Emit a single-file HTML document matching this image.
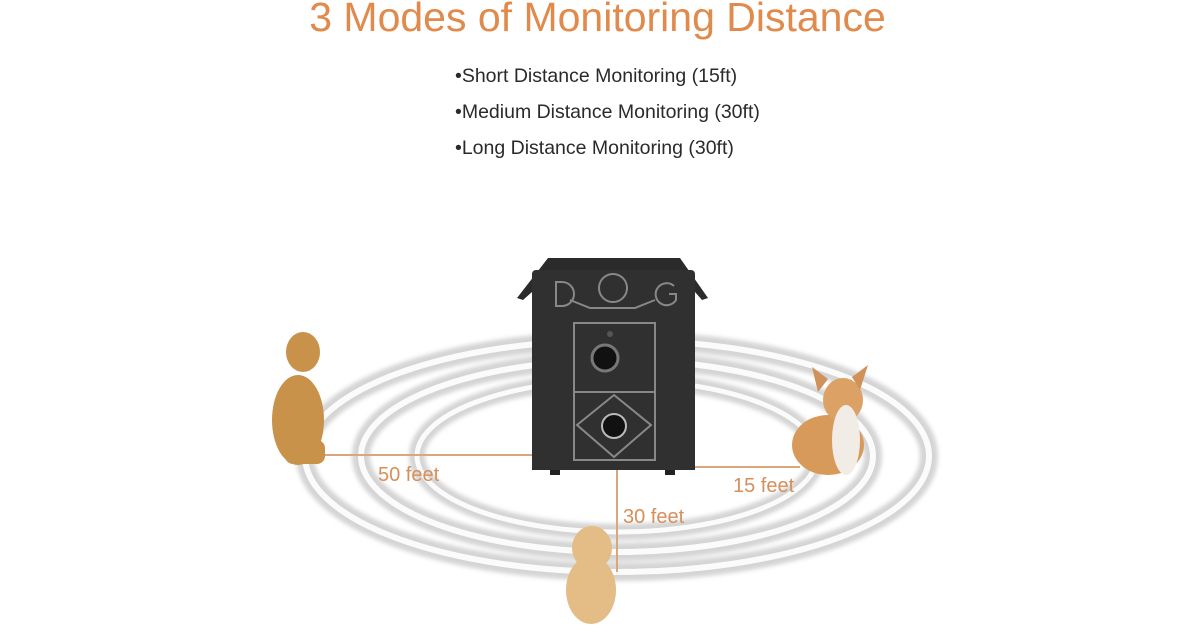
<!DOCTYPE html>
<html><head><style>
body{margin:0;width:1200px;height:630px;background:#fff;overflow:hidden;font-family:"Liberation Sans",sans-serif;position:relative}
.t{position:absolute;left:0;width:1195px;text-align:center;top:-6px;font-size:41px;color:#e08a4c}
.b{position:absolute;left:455px;font-size:19.5px;color:#2a2a2a}
</style></head><body>
<div class="t">3 Modes of Monitoring Distance</div>
<div class="b" style="top:65px">•Short Distance Monitoring (15ft)</div>
<div class="b" style="top:101px">•Medium Distance Monitoring (30ft)</div>
<div class="b" style="top:137px">•Long Distance Monitoring (30ft)</div>
<svg width="1200" height="630" style="position:absolute;left:0;top:0">
<defs><filter id="bl"><feGaussianBlur stdDeviation="2"/></filter></defs>
<g fill="none" filter="url(#bl)">
<ellipse cx="617" cy="456" rx="312" ry="116" stroke="#d4d4d4" stroke-width="18"/>
<ellipse cx="617" cy="456" rx="256" ry="96" stroke="#d4d4d4" stroke-width="18"/>
<ellipse cx="617" cy="456" rx="200" ry="76" stroke="#d4d4d4" stroke-width="16"/>
</g>
<g fill="none">
<ellipse cx="617" cy="456" rx="312" ry="116" stroke="#fbfbfb" stroke-width="6"/>
<ellipse cx="617" cy="456" rx="256" ry="96" stroke="#fbfbfb" stroke-width="6"/>
<ellipse cx="617" cy="456" rx="200" ry="76" stroke="#fbfbfb" stroke-width="5"/>
</g>
<g stroke="#d9a77c" stroke-width="2">
<line x1="320" y1="455" x2="533" y2="455"/>
<line x1="694" y1="467" x2="800" y2="467"/>
<line x1="617" y1="470" x2="617" y2="572"/>
</g>
<g font-size="20" fill="#d68f5a">
<text x="378" y="481">50 feet</text>
<text x="733" y="492">15 feet</text>
<text x="623" y="523">30 feet</text>
</g>
<path d="M517 298 L548 258 L680 258 L708 298 L702 300 L695 292 L695 470 L532 470 L532 292 L523 300Z" fill="#2b2b2b"/>
<rect x="532" y="270" width="163" height="200" rx="4" fill="#303030"/>
<rect x="550" y="470" width="10" height="5" fill="#222"/><rect x="665" y="470" width="10" height="5" fill="#222"/>
<g fill="none" stroke="#888" stroke-width="2">
<path d="M556 282 v24 h6 a12 12 0 0 0 0 -24z"/>
<circle cx="613" cy="288" r="14"/>
<path d="M570 300 l20 8 h45 l20 -8"/>
<path d="M674 286 a11 11 0 1 0 2 14 v-6 h-7"/>
<rect x="574" y="323" width="81" height="137"/>
<line x1="574" y1="392" x2="655" y2="392"/>
<path d="M614 395 l37 30 l-37 32 l-37 -32z"/>
</g>
<circle cx="605" cy="358" r="13" fill="#111" stroke="#777" stroke-width="3"/>
<circle cx="614" cy="426" r="12" fill="#111" stroke="#bbb" stroke-width="2"/>
<circle cx="610" cy="334" r="3" fill="#555"/>
<g fill="#c8924a">
<ellipse cx="298" cy="420" rx="26" ry="45"/>
<ellipse cx="303" cy="352" rx="17" ry="20"/>
<rect x="285" y="440" width="40" height="24" rx="8"/>
</g>
<g>
<ellipse cx="828" cy="445" rx="36" ry="30" fill="#d89a5a"/>
<ellipse cx="843" cy="400" rx="20" ry="22" fill="#dca164"/>
<path d="M818 392 l-6 -25 l16 12z M860 390 l8 -25 l-16 12z" fill="#d0925a"/>
<ellipse cx="846" cy="440" rx="14" ry="35" fill="#f2ece6"/>
</g>
<g fill="#e3bd85">
<ellipse cx="591" cy="590" rx="25" ry="34"/>
<ellipse cx="592" cy="548" rx="20" ry="22"/>
</g>
</svg>
</body></html>
